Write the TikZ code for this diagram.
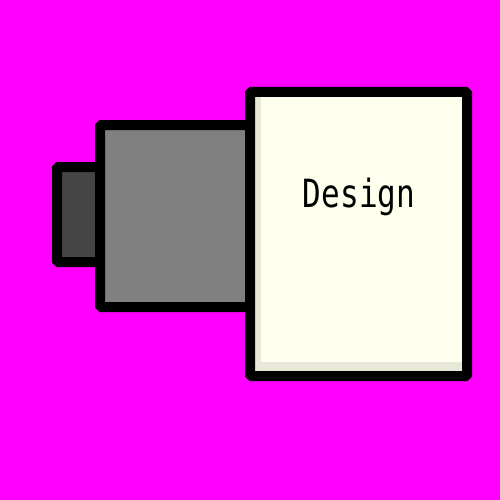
\documentclass[tikz,border=0pt]{standalone}
\usepackage{fontspec}
\newfontfamily\labelfont{DejaVu Sans Mono}
\definecolor{bgmag}{HTML}{FF00FF}
\definecolor{darkpart}{HTML}{454545}
\definecolor{midpart}{HTML}{808080}
\definecolor{creampart}{HTML}{FFFFEE}
\definecolor{shadepart}{HTML}{E8E8D8}
\begin{document}
\begin{tikzpicture}[x=1pt,y=-1pt,
  part/.style={draw=black,line width=10pt,rounded corners=1.5pt}]
\fill[bgmag] (0,0) rectangle (500,500);
\useasboundingbox (0,0) rectangle (500,500);
\path[part,fill=darkpart] (57,167) rectangle (100,262);
\path[part,fill=midpart] (100,125) rectangle (250,307);
\fill[creampart] (250,92) rectangle (467,376);
\fill[shadepart] (255,97) rectangle (261,371);
\fill[shadepart] (255,362) rectangle (462,371);
\draw[line width=10pt,rounded corners=1.5pt] (250,92) rectangle (467,376);
\node[anchor=base,inner sep=0pt,xscale=0.84,yscale=1.05,font=\labelfont\fontsize{37}{40}\selectfont] (label) at (359,207) {Design};
\end{tikzpicture}
\end{document}
